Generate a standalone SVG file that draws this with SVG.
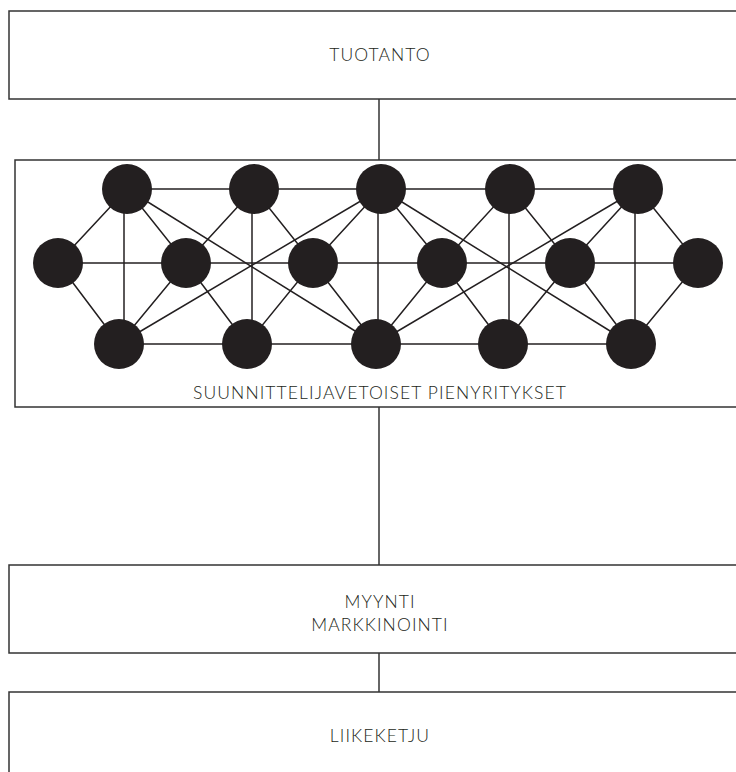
<svg xmlns="http://www.w3.org/2000/svg" width="736" height="772" viewBox="0 0 736 772">
  <style>
    .box { fill: #ffffff; stroke: #333333; stroke-width: 1.5; }
    .link { stroke: #333333; stroke-width: 1.5; fill: none; }
    .net { stroke: #231f20; stroke-width: 1.5; fill: none; }
    .dot { fill: #231f20; }
    .label { font-family: "Lato", "Liberation Sans", sans-serif; font-weight: 300; font-size: 17.5px; letter-spacing: 1.1px; fill: #231f20; text-anchor: middle; }
  </style>

  <!-- connectors between the stages -->
  <g id="connectors">
    <line class="link" x1="379" y1="99" x2="379" y2="160"/>
    <line class="link" x1="379" y1="407" x2="379" y2="565"/>
    <line class="link" x1="379" y1="653" x2="379" y2="692"/>
  </g>

  <g id="tuotanto">
    <rect class="box" x="9" y="11" width="740" height="88"/>
    <text class="label" x="380" y="61">TUOTANTO</text>
  </g>

  <g id="pienyritykset">
    <rect class="box" x="15" y="160" width="740" height="247"/>
    <!-- network of small firms -->
    <g id="network-lines">
      <!-- rows -->
      <line class="net" x1="127" y1="189" x2="638" y2="189"/>
      <line class="net" x1="58" y1="263" x2="698" y2="263"/>
      <line class="net" x1="119" y1="344" x2="631" y2="344"/>
      <!-- verticals -->
      <line class="net" x1="124" y1="189" x2="124" y2="344"/>
      <line class="net" x1="252" y1="189" x2="252" y2="344"/>
      <line class="net" x1="378" y1="189" x2="378" y2="344"/>
      <line class="net" x1="509" y1="189" x2="509" y2="344"/>
      <line class="net" x1="635" y1="189" x2="635" y2="344"/>
      <!-- middle nodes to neighbours -->
      <polyline class="net" points="127,189 58,263 119,344"/>
      <polyline class="net" points="127,189 186,263 119,344"/>
      <polyline class="net" points="254,189 186,263 247,344"/>
      <polyline class="net" points="254,189 313,263 247,344"/>
      <polyline class="net" points="381,189 313,263 376,344"/>
      <polyline class="net" points="381,189 442,263 376,344"/>
      <polyline class="net" points="510,189 442,263 503,344"/>
      <polyline class="net" points="510,189 570,263 503,344"/>
      <polyline class="net" points="638,189 570,263 631,344"/>
      <polyline class="net" points="638,189 698,263 631,344"/>
      <!-- long diagonals -->
      <line class="net" x1="127" y1="189" x2="376" y2="344"/>
      <line class="net" x1="119" y1="344" x2="381" y2="189"/>
      <line class="net" x1="381" y1="189" x2="631" y2="344"/>
      <line class="net" x1="376" y1="344" x2="638" y2="189"/>
    </g>
    <g id="network-nodes">
      <circle class="dot" cx="127" cy="189" r="25"/>
      <circle class="dot" cx="254" cy="189" r="25"/>
      <circle class="dot" cx="381" cy="189" r="25"/>
      <circle class="dot" cx="510" cy="189" r="25"/>
      <circle class="dot" cx="638" cy="189" r="25"/>
      <circle class="dot" cx="58" cy="263" r="25"/>
      <circle class="dot" cx="186" cy="263" r="25"/>
      <circle class="dot" cx="313" cy="263" r="25"/>
      <circle class="dot" cx="442" cy="263" r="25"/>
      <circle class="dot" cx="570" cy="263" r="25"/>
      <circle class="dot" cx="698" cy="263" r="25"/>
      <circle class="dot" cx="119" cy="344" r="25"/>
      <circle class="dot" cx="247" cy="344" r="25"/>
      <circle class="dot" cx="376" cy="344" r="25"/>
      <circle class="dot" cx="503" cy="344" r="25"/>
      <circle class="dot" cx="631" cy="344" r="25"/>
    </g>
    <text class="label" x="380" y="399">SUUNNITTELIJAVETOISET PIENYRITYKSET</text>
  </g>

  <g id="myynti">
    <rect class="box" x="9" y="565" width="740" height="88"/>
    <text class="label" x="380" y="608">MYYNTI</text>
    <text class="label" x="380" y="631">MARKKINOINTI</text>
  </g>

  <g id="liikeketju">
    <rect class="box" x="9" y="692" width="740" height="100"/>
    <text class="label" x="380" y="742">LIIKEKETJU</text>
  </g>
</svg>
